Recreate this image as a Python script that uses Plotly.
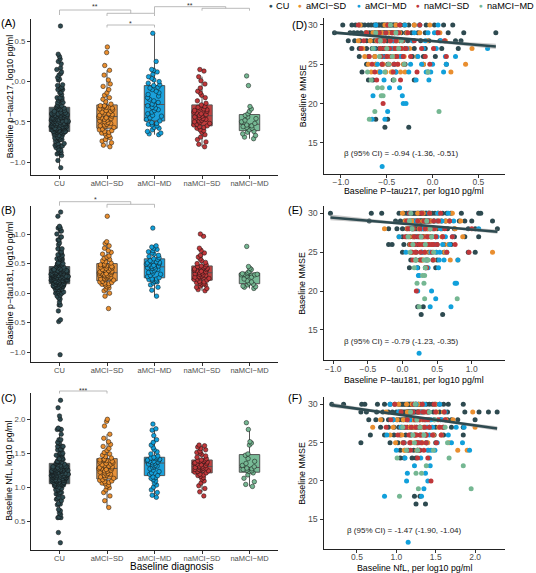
import numpy as np
import plotly.graph_objects as go

W, H = 536, 573
def px(x):
    return x / W
def py(y):
    return 1 - y / H

FONT = "Liberation Sans, Arial, sans-serif"

groups = ["CU", "aMCI−SD", "aMCI−MD", "naMCI−SD", "naMCI−MD"]
box_fill = ["#3E5459", "#E8923A", "#1BA1DC", "#C2403F", "#78BB97"]
point_color = ["#2E4A50", "#E98E2F", "#11A0DB", "#C0373A", "#75B792"]

# ---------------- CU ----------------
cu_mmse = [30]*36 + [29]*36 + [28]*28 + [27]*18 + [26]*12 + [25]*8 + [24]*4 + [23]*4 + [18]*2 + [17]*2
cu_ptau217 = [
    -0.98, -0.88, -0.84, -0.80, -0.77, -0.74, -0.70, -0.67, -0.64,
    -0.62, -0.61, -0.59, -0.58, -0.56, -0.55, -0.54, -0.53, -0.52,
    -0.50, -0.49, -0.47, -0.46, -0.45, -0.43, -0.42, -0.40, -0.39,
    -0.35, -0.31, -0.26, -0.20, -0.14, -0.07, 0.02, 0.12, 0.22,
    -1.07, -0.90, -0.86, -0.82, -0.78, -0.73, -0.69, -0.66, -0.63,
    -0.62, -0.60, -0.59, -0.57, -0.56, -0.54, -0.53, -0.52, -0.51,
    -0.50, -0.48, -0.47, -0.45, -0.44, -0.42, -0.41, -0.39, -0.38,
    -0.34, -0.29, -0.23, -0.16, -0.08, 0.05, 0.17, 0.34, 0.69,
    -0.92, -0.85, -0.79, -0.72, -0.68, -0.64, -0.62, -0.60, -0.58, -0.56,
    -0.54, -0.52, -0.50, -0.49, -0.47, -0.45, -0.43, -0.41, -0.39, -0.36,
    -0.32, -0.27, -0.21, -0.13, -0.04, 0.08, 0.25, 0.31,
    -0.88, -0.80, -0.72, -0.66, -0.62, -0.58, -0.55, -0.52, -0.50,
    -0.47, -0.44, -0.41, -0.37, -0.30, -0.20, -0.08, 0.10, 0.28,
    -0.80, -0.70, -0.63, -0.57, -0.53, -0.49, -0.45, -0.40, -0.33, -0.22, -0.10, 0.03,
    -0.72, -0.62, -0.55, -0.49, -0.42, -0.30, -0.10, 0.15,
    -0.77, -0.58, -0.40, -0.05,
    -0.70, -0.65, -0.43, -0.20,
    -0.62, -0.49,
    -0.52, -0.26,
]
cu_ptau181 = [
    -1.04, -0.45, -0.30, -0.05, 0.02, 0.06, 0.09, 0.12, 0.14,
    0.16, 0.18, 0.20, 0.22, 0.23, 0.25, 0.26, 0.27, 0.28,
    0.29, 0.30, 0.31, 0.33, 0.34, 0.35, 0.37, 0.38, 0.40,
    0.43, 0.47, 0.52, 0.58, 0.64, 0.70, 0.85, 1.10, 1.13,
    -0.48, -0.10, -0.03, 0.03, 0.07, 0.10, 0.12, 0.14, 0.15,
    0.17, 0.19, 0.21, 0.22, 0.24, 0.25, 0.26, 0.27, 0.28,
    0.29, 0.31, 0.32, 0.33, 0.35, 0.36, 0.38, 0.39, 0.41,
    0.45, 0.50, 0.56, 0.62, 0.68, 0.82, 0.90, 1.00, 1.30,
    -0.20, -0.08, 0.00, 0.06, 0.10, 0.13, 0.15, 0.17, 0.19, 0.21,
    0.23, 0.25, 0.27, 0.28, 0.30, 0.32, 0.34, 0.36, 0.38, 0.40,
    0.44, 0.50, 0.57, 0.65, 0.75, 0.95, 1.05, 1.37,
    0.00, 0.06, 0.11, 0.15, 0.18, 0.21, 0.24, 0.27, 0.29,
    0.31, 0.34, 0.37, 0.41, 0.48, 0.58, 0.75, 0.90, 1.10,
    -0.20, -0.15, 0.02, 0.10, 0.16, 0.22, 0.27, 0.32, 0.38, 0.50, 0.60, 0.70,
    0.00, 0.12, 0.20, 0.28, 0.38, 0.60, 0.95, 1.05,
    0.12, 0.25, 0.36, 0.50,
    0.10, 0.22, 0.33, 0.48,
    0.22, 0.30,
    0.27, 0.58,
]
cu_nfl = [
    0.18, 0.33, 0.56, 0.60, 0.76, 0.85, 0.92, 0.98, 1.03,
    1.06, 1.08, 1.10, 1.12, 1.14, 1.15, 1.16, 1.17, 1.18,
    1.19, 1.21, 1.22, 1.24, 1.25, 1.26, 1.28, 1.29, 1.31,
    1.34, 1.38, 1.42, 1.46, 1.50, 1.55, 1.60, 1.66, 1.85,
    0.55, 0.62, 0.75, 0.83, 0.90, 0.95, 1.00, 1.03, 1.05,
    1.07, 1.09, 1.11, 1.13, 1.14, 1.15, 1.16, 1.17, 1.18,
    1.19, 1.20, 1.22, 1.23, 1.25, 1.27, 1.28, 1.30, 1.32,
    1.36, 1.41, 1.47, 1.55, 1.65, 1.87, 2.05, 2.17, 2.28,
    0.65, 0.74, 0.82, 0.90, 0.96, 1.01, 1.04, 1.07, 1.09, 1.11,
    1.13, 1.15, 1.17, 1.19, 1.21, 1.23, 1.25, 1.27, 1.30, 1.33,
    1.37, 1.42, 1.48, 1.56, 1.65, 1.70, 1.78, 2.00,
    0.80, 0.90, 0.97, 1.03, 1.07, 1.10, 1.14, 1.17, 1.20,
    1.23, 1.26, 1.30, 1.35, 1.42, 1.50, 1.60, 1.70, 1.85,
    0.67, 0.85, 0.97, 1.05, 1.12, 1.18, 1.24, 1.30, 1.38, 1.48, 1.60, 1.85,
    0.55, 0.92, 1.02, 1.10, 1.18, 1.27, 1.38, 1.50,
    1.05, 1.15, 1.22, 1.30,
    1.05, 1.10, 1.20, 1.25,
    1.23, 1.30,
    1.25, 1.37,
]

# ---------------- aMCI-SD ----------------
asd_mmse = [30]*6 + [29]*10 + [28]*10 + [27]*10 + [26]*8 + [25]*8 + [24]*8
asd_ptau217 = [
    -0.79, -0.40, -0.30, -0.20, -0.03, -0.52,
    -0.72, -0.65, -0.55, -0.48, -0.42, -0.36, -0.28, -0.14, 0.08, -0.60,
    -0.81, -0.68, -0.61, -0.53, -0.46, -0.39, -0.33, -0.22, -0.06, 0.14,
    -0.76, -0.64, -0.57, -0.50, -0.45, -0.41, -0.34, -0.25, 0.02, 0.43,
    -0.74, -0.63, -0.56, -0.49, -0.43, -0.37, -0.31, -0.17,
    -0.70, -0.62, -0.54, -0.47, -0.38, -0.32, -0.10, 0.36,
    -0.67, -0.59, -0.51, -0.45, -0.44, -0.35, -0.30, 0.20,
]
asd_ptau181 = [
    0.00, 0.22, 0.30, 0.39, 0.51, 0.72,
    0.04, 0.14, 0.23, 0.30, 0.35, 0.41, 0.46, 0.53, 0.63, 0.84,
    -0.26, 0.07, 0.15, 0.24, 0.31, 0.36, 0.42, 0.47, 0.55, 0.76,
    -0.05, 0.09, 0.16, 0.25, 0.32, 0.37, 0.43, 0.48, 0.57, 0.87,
    0.11, 0.17, 0.26, 0.33, 0.38, 0.44, 0.59, 0.66,
    0.13, 0.18, 0.27, 0.33, 0.40, 0.49, 0.61, 1.30,
    0.19, 0.20, 0.28, 0.29, 0.34, 0.45, 0.69, 0.80,
]
asd_nfl = [
    1.03, 1.13, 1.20, 1.28, 1.34, 1.49,
    0.87, 1.05, 1.14, 1.21, 1.29, 1.35, 1.40, 1.51, 1.60, 1.97,
    0.80, 1.01, 1.09, 1.15, 1.22, 1.30, 1.36, 1.43, 1.63, 1.72,
    0.70, 0.96, 1.06, 1.17, 1.23, 1.31, 1.37, 1.45, 1.54, 2.00,
    0.92, 1.07, 1.18, 1.24, 1.32, 1.38, 1.47, 1.57,
    0.99, 1.08, 1.19, 1.25, 1.33, 1.39, 1.40, 1.67,
    1.10, 1.11, 1.26, 1.27, 1.27, 1.41, 1.78, 1.90,
]

# ---------------- aMCI-MD ----------------
amd_mmse = ([30]*4 + [29]*5 + [28]*5 + [27]*6 + [26]*5 + [25]*6 + [24]*6 + [23]*3
            + [22]*2 + [21]*2 + [20]*2 + [19]*1 + [18]*2 + [12]*1)
amd_ptau217 = [
    -0.62, -0.30, -0.14, 0.06,
    -0.51, -0.38, -0.20, -0.05, 0.02,
    -0.58, -0.43, -0.22, -0.08, 0.09,
    -0.64, -0.45, -0.28, -0.10, 0.04, 0.60,
    -0.54, -0.35, -0.16, 0.14, 0.25,
    -0.60, -0.42, -0.24, -0.12, 0.00, 0.15,
    -0.57, -0.40, -0.26, -0.07, 0.12, -0.02,
    -0.53, -0.18, -0.04,
    -0.47, -0.36,
    -0.65, -0.33,
    -0.32, -0.29,
    -0.49,
    -0.66, -0.52,
    -0.55,
]
amd_ptau181 = [
    0.10, 0.38, 0.51, 0.66,
    0.20, 0.35, 0.46, 0.57, 0.74,
    0.14, 0.30, 0.45, 0.55, 1.10,
    -0.05, 0.26, 0.43, 0.50, 0.62, 0.72,
    0.17, 0.32, 0.47, 0.58, 0.68,
    0.05, 0.28, 0.41, 0.49, 0.54, 0.64,
    0.19, 0.34, 0.44, 0.53, 0.60, 0.80,
    0.21, 0.37, 0.52,
    0.23, 0.24,
    0.76, 0.78,
    0.22, 0.42,
    0.48,
    0.40, 0.70,
    0.24,
]
amd_nfl = [
    0.92, 1.25, 1.36, 1.55,
    1.03, 1.21, 1.33, 1.41, 1.62,
    0.96, 1.17, 1.38, 1.44, 1.58,
    1.06, 1.29, 1.39, 1.46, 1.76, 1.86,
    0.88, 1.19, 1.34, 1.42, 1.66,
    1.09, 1.30, 1.38, 1.52, 1.70, 1.84,
    1.00, 1.27, 1.40, 1.44, 1.49, 1.93,
    1.11, 1.31, 1.42,
    1.23, 1.43,
    1.14, 1.37,
    1.13, 1.40,
    1.35,
    0.85, 1.32,
    1.15,
]

# ---------------- naMCI-SD ----------------
nsd_mmse = [30]*4 + [29]*7 + [28]*8 + [27]*9 + [26]*9 + [25]*7 + [24]*3 + [23]*2 + [20]*1
nsd_ptau217 = [
    -0.81, -0.49, -0.36, -0.14,
    -0.72, -0.58, -0.51, -0.44, -0.37, -0.27, 0.06,
    -0.75, -0.60, -0.53, -0.46, -0.40, -0.33, -0.20, 0.13,
    -0.78, -0.57, -0.52, -0.47, -0.41, -0.34, -0.29, -0.12, 0.01,
    -0.69, -0.56, -0.50, -0.45, -0.39, -0.32, -0.24, -0.08, 0.15,
    -0.66, -0.55, -0.48, -0.42, -0.38, -0.31, -0.03,
    -0.63, -0.43, -0.17,
    -0.61, -0.35,
    -0.54,
]
nsd_ptau181 = [
    0.10, 0.28, 0.39, 0.55,
    0.06, 0.22, 0.31, 0.37, 0.45, 0.52, 0.68,
    0.08, 0.16, 0.25, 0.33, 0.40, 0.46, 0.61, 1.00,
    0.04, 0.17, 0.23, 0.29, 0.36, 0.41, 0.48, 0.58, 0.72,
    0.12, 0.18, 0.24, 0.30, 0.38, 0.42, 0.45, 0.50, 0.76,
    0.14, 0.19, 0.26, 0.32, 0.43, 0.64, 0.96,
    0.15, 0.27, 0.44,
    0.34, 0.35,
    0.20,
]
nsd_nfl = [
    0.98, 1.22, 1.33, 1.48,
    1.06, 1.21, 1.28, 1.34, 1.39, 1.50, 1.61,
    0.93, 1.14, 1.24, 1.29, 1.35, 1.40, 1.53, 1.62,
    0.87, 1.12, 1.19, 1.25, 1.30, 1.36, 1.42, 1.55, 1.59,
    1.02, 1.16, 1.23, 1.26, 1.31, 1.37, 1.38, 1.46, 1.57,
    1.09, 1.17, 1.26, 1.28, 1.32, 1.38, 1.51,
    1.18, 1.29, 1.35,
    1.27, 1.40,
    1.44,
]

# ---------------- naMCI-MD ----------------
nmd_mmse = [30]*1 + [29]*2 + [28]*2 + [27]*3 + [26]*2 + [25]*2 + [24]*3 + [23]*2 + [22]*2 + [21]*2 + [19]*2 + [18]*1
nmd_ptau217 = [
    -0.46,
    -0.62, -0.40,
    -0.57, -0.34,
    -0.65, -0.50, -0.37,
    -0.58, -0.44,
    -0.48, -0.31,
    -0.71, -0.52, -0.05,
    -0.67, -0.42,
    -0.60, -0.55,
    -0.56, -0.54,
    -0.63, 0.07,
    -0.69,
]
nmd_ptau181 = [
    0.12,
    0.10, 0.35,
    0.14, 0.40,
    0.08, 0.27, 0.42,
    0.15, 0.33,
    0.11, 0.45,
    0.19, 0.31, 0.37,
    0.17, 0.33,
    0.29, 0.32,
    0.21, 0.31,
    0.32, 0.79,
    0.24,
]
nmd_nfl = [
    1.24,
    1.18, 1.42,
    1.26, 1.49,
    1.08, 1.30, 1.62,
    1.21, 1.35,
    1.23, 1.65,
    1.13, 1.27, 1.47,
    1.01, 1.67,
    1.38, 1.85,
    1.25, 1.32,
    1.28, 1.95,
    1.04,
]

# regression lines (MMSE = intercept + slope * biomarker)
fit_intercept = [27.96, 28.67, 30.15]
fit_slope = [-1.00, -0.76, -1.45]
ci_center_half = [0.06, 0.07, 0.06]
ci_spread = [0.30, 0.26, 0.27]
beta_text = ["β (95% CI) = -0.94 (-1.36, -0.51)",
             "β (95% CI) = -0.79 (-1.23, -0.35)",
             "β (95% CI) = -1.47 (-1.90, -1.04)"]

left_titles = ["Baseline p−tau217, log10 pg/ml", "Baseline p−tau181, log10 pg/ml", "Baseline NfL, log10 pg/ml"]
right_xtitles = ["Baseline P−tau217, per log10 pg/ml", "Baseline P−tau181, per log10 pg/ml", "Baseline NfL, per log10 pg/ml"]
panel_labels = ["(A)", "(B)", "(C)", "(D)", "(E)", "(F)"]

mmse = [cu_mmse, asd_mmse, amd_mmse, nsd_mmse, nmd_mmse]
markers = [
    [cu_ptau217, asd_ptau217, amd_ptau217, nsd_ptau217, nmd_ptau217],
    [cu_ptau181, asd_ptau181, amd_ptau181, nsd_ptau181, nmd_ptau181],
    [cu_nfl, asd_nfl, amd_nfl, nsd_nfl, nmd_nfl],
]
for m in markers:
    for g in range(5):
        assert len(m[g]) == len(mmse[g]), (g, len(m[g]), len(mmse[g]))

# ---------------- layout geometry (pixels) ----------------
left_x_dom = (31, 278)
left_y_dom = [(18.8, 174.9), (205.6, 361.8), (393.2, 549.5)]
left_y_range = [[-1.16, 0.78], [-1.16, 1.48], [0.08, 2.385]]
right_x_dom = (323.5, 505)
right_y_dom = [(17.9, 173.5), (206.3, 360.3), (397.4, 549.2)]
right_x_range = [[-1.19, 0.79], [-1.14, 1.48], [0.075, 2.38]]
right_y_range = [11.1, 30.9]

fig = go.Figure()

def ax_id(n):
    return "" if n == 1 else str(n)

axis_common = dict(showline=True, linecolor="#222222", linewidth=1, ticks="outside",
                   ticklen=3, tickwidth=1, tickcolor="#333333", showgrid=False,
                   zeroline=False, fixedrange=True)

layout = {}
for p in range(3):
    n = p + 1
    a = ax_id(n)
    for g in range(5):
        vals = markers[p][g]
        fig.add_trace(go.Box(
            x=[groups[g]] * len(vals), y=vals, xaxis="x" + a, yaxis="y" + a,
            boxpoints="all", jitter=0.85, pointpos=0, width=0.43, whiskerwidth=0,
            fillcolor=box_fill[g], line=dict(color="#555555", width=1),
            marker=dict(color=point_color[g], size=4.5, line=dict(color="#111111", width=0.5)),
            showlegend=False, hoverinfo="skip"))
    layout["xaxis" + a] = dict(axis_common, domain=[px(left_x_dom[0]), px(left_x_dom[1])],
                               anchor="y" + a, type="category", categoryorder="array",
                               categoryarray=groups, range=[-0.6, 4.6], ticklabelstandoff=-2,
                               tickfont=dict(size=7.5, color="#4D4D4D", family=FONT))
    layout["yaxis" + a] = dict(axis_common, domain=[py(left_y_dom[p][1]), py(left_y_dom[p][0])],
                               anchor="x" + a, range=left_y_range[p], dtick=0.5, tickformat=".1f",
                               tickfont=dict(size=7.8, color="#4D4D4D", family=FONT))

for p in range(3):
    n = p + 4
    a = ax_id(n)
    for g in range(5):
        fig.add_trace(go.Scatter(
            x=markers[p][g], y=mmse[g], mode="markers", xaxis="x" + a, yaxis="y" + a,
            marker=dict(color=point_color[g], size=5, line=dict(width=0)),
            showlegend=False, hoverinfo="skip"))
    allx = np.concatenate([np.array(v, dtype=float) for v in markers[p]])
    xs = np.linspace(allx.min(), allx.max(), 80)
    yfit = fit_intercept[p] + fit_slope[p] * xs
    half = np.sqrt(ci_center_half[p] ** 2 + (ci_spread[p] * (xs - allx.mean())) ** 2)
    fig.add_trace(go.Scatter(
        x=np.concatenate([xs, xs[::-1]]), y=np.concatenate([yfit + half, (yfit - half)[::-1]]),
        mode="lines", fill="toself", fillcolor="rgba(150,150,150,0.5)", line=dict(width=0),
        xaxis="x" + a, yaxis="y" + a, showlegend=False, hoverinfo="skip"))
    fig.add_trace(go.Scatter(
        x=xs, y=yfit, mode="lines", line=dict(color="#2E4A50", width=2.6),
        xaxis="x" + a, yaxis="y" + a, showlegend=False, hoverinfo="skip"))
    layout["xaxis" + a] = dict(axis_common, domain=[px(right_x_dom[0]), px(right_x_dom[1])],
                               anchor="y" + a, range=right_x_range[p], dtick=0.5, tickformat=".1f",
                               ticklabelstandoff=-3,
                               tickfont=dict(size=8.5, color="#4D4D4D", family=FONT))
    layout["yaxis" + a] = dict(axis_common, domain=[py(right_y_dom[p][1]), py(right_y_dom[p][0])],
                               anchor="x" + a, range=right_y_range, dtick=5,
                               tickfont=dict(size=8.8, color="#4D4D4D", family=FONT))

annotations = []
shapes = []

def ann(x, y, text, size, xref="paper", xanchor="center", yanchor="middle", angle=0, color="#000000"):
    annotations.append(dict(x=x, y=y, xref=xref, yref="paper", text=text, showarrow=False,
                            xanchor=xanchor, yanchor=yanchor, textangle=angle, borderpad=0,
                            font=dict(size=size, color=color, family=FONT)))

# panel labels
label_pos = [(0, 23.3), (0, 210), (0, 398.3), (290.5, 25), (286.5, 210), (286.5, 398.3)]
for lab, (lx, ly) in zip(panel_labels, label_pos):
    ann(px(lx), py(ly), lab, 11, xanchor="left")

# left y titles
for p in range(3):
    cy = (left_y_dom[p][0] + left_y_dom[p][1]) / 2
    ann(px(9.5), py(cy), left_titles[p], 8.8, angle=-90)
ann(px(171), py(566), "Baseline diagnosis", 10)

# right titles
right_xtitle_y = [191, 380, 568]
for p in range(3):
    cy = (right_y_dom[p][0] + right_y_dom[p][1]) / 2
    ann(px(302.5), py(cy), "Baseline MMSE", 8.8, angle=-90)
    ann(px(414), py(right_xtitle_y[p]), right_xtitles[p], 8.8)

# beta annotations
beta_pos = [(401, 153.3), (401, 341), (404.5, 530)]
for p in range(3):
    ann(px(beta_pos[p][0]), py(beta_pos[p][1]), beta_text[p], 8, color="#222222")

# legend (manual, to match compact ggplot spacing)
legend_dot_x = [270.5, 300, 359, 418, 480.5]
legend_text_x = [275, 305, 364, 423, 485.5]
for g in range(5):
    ann(px(legend_dot_x[g]), py(5.5), "●", 6.5, color=point_color[g])
    ann(px(legend_text_x[g]), py(5.5), groups[g], 9.2, xanchor="left")

# significance brackets: (x0, x1, y_line, y_left_end, y_right_end) with x in category positions
sig_brackets = {
    "x": [(0, 1.5, 10, 15, 13.3), (1, 2, 13.3, 16, 16), (1, 2, 25, 27.5, 27.5),
          (2, 3.5, 6.7, 13.3, 8.3), (3, 4, 8.3, 10.7, 10.7)],
    "x2": [(0, 1.5, 201.7, 205.7, 204.3), (1, 2, 204.3, 207.7, 207.7)],
    "x3": [(0, 1, 391, 393.5, 393.5)],
}
sig_labels = {
    "x": [(0.75, 7.0, "**"), (1.5, 23.5, "*"), (2.75, 5.2, "**")],
    "x2": [(0.75, 199.8, "*")],
    "x3": [(0.5, 390.0, "***")],
}
for xr, brs in sig_brackets.items():
    for (x0, x1, yl, ya, yb) in brs:
        line = dict(color="#A8A8A8", width=0.8)
        shapes.append(dict(type="line", xref=xr, yref="paper", x0=x0, x1=x1, y0=py(yl), y1=py(yl), line=line))
        shapes.append(dict(type="line", xref=xr, yref="paper", x0=x0, x1=x0, y0=py(yl), y1=py(ya), line=line))
        shapes.append(dict(type="line", xref=xr, yref="paper", x0=x1, x1=x1, y0=py(yl), y1=py(yb), line=line))
for xr, labs in sig_labels.items():
    for (lx, ly, t) in labs:
        ann(lx, py(ly), t, 7, xref=xr, color="#333333")

fig.update_layout(
    width=W, height=H, margin=dict(l=0, r=0, t=0, b=0),
    paper_bgcolor="white", plot_bgcolor="white", boxmode="overlay",
    showlegend=False, hovermode=False, font=dict(family=FONT),
    annotations=annotations, shapes=shapes, **layout)

fig.write_html("out.html", config={"displayModeBar": False},
               post_script="document.body.style.margin='0';document.body.style.overflow='hidden';")
